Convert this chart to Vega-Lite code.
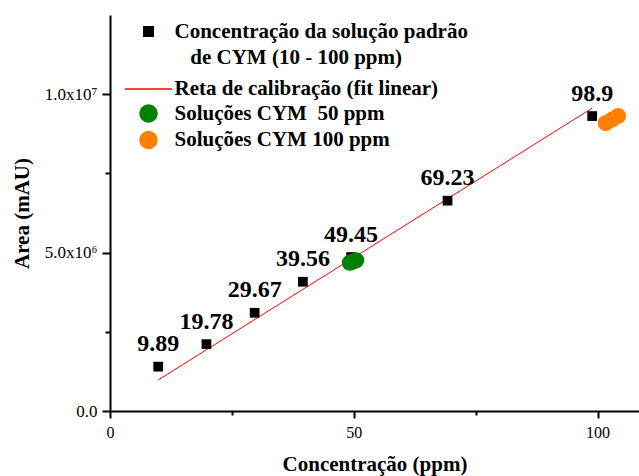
{
  "$schema": "https://vega.github.io/schema/vega-lite/v6.json",
  "width": 529,
  "height": 396,
  "autosize": {"type": "none"},
  "padding": {"left": 110, "top": 15, "right": 0, "bottom": 65},
  "background": "white",
  "config": {"view": {"stroke": null}, "font": "Liberation Serif"},
  "datasets": {
    "padrao": [
      {"conc": 9.89, "area": 1400000, "serie": "Concentração da solução padrão de CYM (10 - 100 ppm)"},
      {"conc": 19.78, "area": 2110000, "serie": "Concentração da solução padrão de CYM (10 - 100 ppm)"},
      {"conc": 29.67, "area": 3100000, "serie": "Concentração da solução padrão de CYM (10 - 100 ppm)"},
      {"conc": 39.56, "area": 4080000, "serie": "Concentração da solução padrão de CYM (10 - 100 ppm)"},
      {"conc": 49.45, "area": 4860000, "serie": "Concentração da solução padrão de CYM (10 - 100 ppm)"},
      {"conc": 69.23, "area": 6640000, "serie": "Concentração da solução padrão de CYM (10 - 100 ppm)"},
      {"conc": 98.9, "area": 9310000, "serie": "Concentração da solução padrão de CYM (10 - 100 ppm)"}
    ],
    "reta": [
      {"conc": 9.89, "area": 980000, "serie": "Reta de calibração (fit linear)"},
      {"conc": 98.9, "area": 9560000, "serie": "Reta de calibração (fit linear)"}
    ],
    "amostras": [
      {"conc": 49.2, "area": 4680000, "serie": "Soluções CYM\u00a0\u00a050 ppm"},
      {"conc": 49.85, "area": 4720000, "serie": "Soluções CYM\u00a0\u00a050 ppm"},
      {"conc": 50.5, "area": 4760000, "serie": "Soluções CYM\u00a0\u00a050 ppm"},
      {"conc": 101.7, "area": 9090000, "serie": "Soluções CYM 100 ppm"},
      {"conc": 103.0, "area": 9200000, "serie": "Soluções CYM 100 ppm"},
      {"conc": 104.2, "area": 9310000, "serie": "Soluções CYM 100 ppm"}
    ]
  },
  "encoding": {
    "x": {
      "field": "conc",
      "type": "quantitative",
      "title": "Concentração (ppm)",
      "scale": {"domain": [0, 108.5], "nice": false, "zero": false},
      "axis": {
        "values": [0, 25, 50, 75, 100],
        "labelExpr": "datum.value % 50 == 0 ? datum.value + '' : ''",
        "tickSize": {"condition": {"test": "datum.value % 50 != 0", "value": 4}, "value": 7},
        "grid": false,
        "domainColor": "black",
        "domainWidth": 2,
        "tickColor": "black",
        "tickWidth": 2,
        "labelFont": "Liberation Serif",
        "labelFontSize": 16,
        "labelColor": "black",
        "labelPadding": 6,
        "labelFlush": false,
        "labelOverlap": false,
        "titleFont": "Liberation Serif",
        "titleFontSize": 21,
        "titleFontWeight": "bold",
        "titleColor": "black",
        "titlePadding": 13
      }
    },
    "y": {
      "field": "area",
      "type": "quantitative",
      "title": "Area (mAU)",
      "scale": {"domain": [0, 12500000], "nice": false},
      "axis": {
        "values": [0, 2500000, 5000000, 7500000, 10000000],
        "labelExpr": "datum.value == 0 ? '0.0' : datum.value == 5000000 ? '5.0x10⁶' : datum.value == 10000000 ? '1.0x10⁷' : ''",
        "tickSize": {"condition": {"test": "datum.value % 5000000 != 0", "value": 5}, "value": 8},
        "grid": false,
        "domainColor": "black",
        "domainWidth": 2,
        "tickColor": "black",
        "tickWidth": 2,
        "labelFont": "Liberation Serif",
        "labelFontSize": 17,
        "labelColor": "black",
        "labelPadding": 5,
        "labelFlush": false,
        "labelOverlap": false,
        "titleFont": "Liberation Serif",
        "titleFontSize": 21,
        "titleFontWeight": "bold",
        "titleColor": "black",
        "titlePadding": 12
      }
    },
    "color": {
      "field": "serie",
      "type": "nominal",
      "scale": {
        "domain": [
          "Concentração da solução padrão de CYM (10 - 100 ppm)",
          "Reta de calibração (fit linear)",
          "Soluções CYM\u00a0\u00a050 ppm",
          "Soluções CYM 100 ppm"
        ],
        "range": ["#000000", "#ff0000", "#008000", "#ff8000"]
      },
      "legend": {
        "orient": "none",
        "legendX": 28,
        "legendY": 6,
        "title": null,
        "padding": 0,
        "symbolSize": 290,
        "labelOffset": 15.5,
        "rowPadding": 1.5,
        "labelFont": "Liberation Serif",
        "labelFontSize": 21,
        "labelFontWeight": "bold",
        "labelColor": "black",
        "labelLimit": 600,
        "labelExpr": "datum.value == 'Concentração da solução padrão de CYM (10 - 100 ppm)' ? ['Concentração da solução padrão', '\u200b\u00a0\u00a0\u00a0de CYM (10 - 100 ppm)'] : datum.label",
        "encode": {
          "symbols": {
            "update": {
              "shape": {"signal": "datum.value == 'Reta de calibração (fit linear)' ? 'stroke' : datum.value == 'Concentração da solução padrão de CYM (10 - 100 ppm)' ? 'M-1,-1H1V1H-1Z M0,8.7L0,8.7' : 'circle'"},
              "size": {"signal": "datum.value == 'Reta de calibração (fit linear)' ? 2209 : datum.value == 'Concentração da solução padrão de CYM (10 - 100 ppm)' ? 90 : 290"},
              "fill": {"signal": "datum.value == 'Reta de calibração (fit linear)' ? 'transparent' : datum.value == 'Concentração da solução padrão de CYM (10 - 100 ppm)' ? '#000000' : datum.value == 'Soluções CYM 100 ppm' ? '#ff8000' : '#008000'"},
              "stroke": {"signal": "datum.value == 'Reta de calibração (fit linear)' ? '#ff0000' : 'transparent'"},
              "strokeWidth": {"value": 1.5},
              "opacity": {"value": 1}
            }
          },
          "labels": {
            "update": {
              "lineHeight": {"value": 26}
            }
          }
        }
      }
    }
  },
  "layer": [
    {
      "data": {"name": "reta"},
      "mark": {"type": "line", "strokeWidth": 1, "clip": true}
    },
    {
      "data": {"name": "padrao"},
      "mark": {"type": "square", "size": 95, "opacity": 1, "filled": true}
    },
    {
      "data": {"name": "amostras"},
      "mark": {"type": "circle", "size": 260, "opacity": 1}
    },
    {
      "data": {"name": "padrao"},
      "mark": {
        "type": "text",
        "font": "Liberation Serif",
        "fontSize": 24,
        "fontWeight": "bold",
        "baseline": "alphabetic",
        "align": "center",
        "dy": -15.5
      },
      "encoding": {
        "text": {"field": "conc", "type": "nominal"},
        "color": {"value": "black"}
      }
    }
  ]
}
